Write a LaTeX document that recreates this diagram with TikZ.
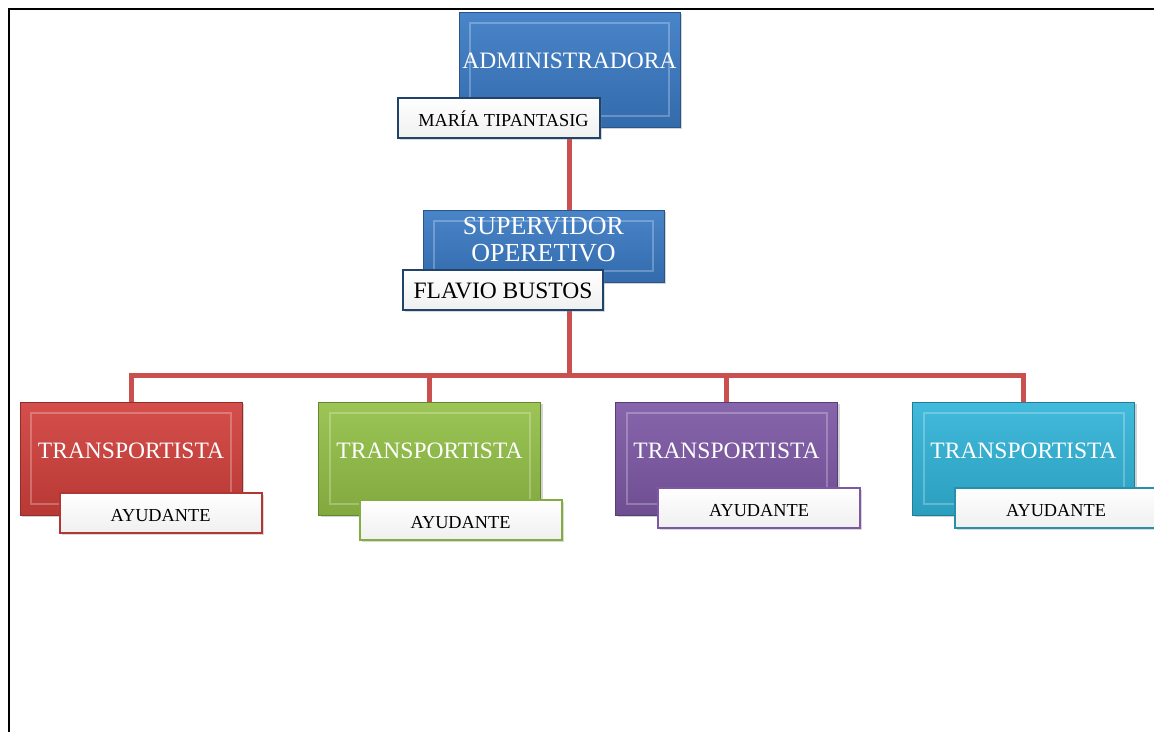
\documentclass[tikz,border=0pt]{standalone}
\usepackage{fontspec}
\setmainfont{Liberation Serif}
\usetikzlibrary{shadows,backgrounds}
\definecolor{azul}{HTML}{3A7AC4}
\definecolor{rojo}{HTML}{D1403C}
\definecolor{verde}{HTML}{93C047}
\definecolor{morado}{HTML}{7D58A5}
\definecolor{celeste}{HTML}{31B4D8}
\definecolor{enlacerojo}{HTML}{C9504E}
\tikzset{
  cargo/.style={rectangle, draw=#1!70!black, line width=1pt, inner sep=0pt,
    top color=#1!92!white, bottom color=#1!88!black,
    drop shadow={shadow xshift=2pt, shadow yshift=-2pt, opacity=.35},
    path picture={\draw[white, opacity=.25, line width=2pt]
      ([shift={(11pt,-11pt)}]path picture bounding box.north west) rectangle
      ([shift={(-11pt,11pt)}]path picture bounding box.south east);}},
  titulo/.style={text=white, inner sep=0pt, align=center, font=\fontsize{23.5}{27}\selectfont},
  nombre/.style={rectangle, draw=#1, line width=2pt, inner sep=0pt,
    top color=white, bottom color=gray!12, minimum width=202pt, minimum height=40pt,
    text height=16pt, text depth=0pt,
    drop shadow={shadow xshift=2pt, shadow yshift=-2pt, opacity=.3},
    font=\fontsize{18.3}{20}\selectfont},
  enlace/.style={draw=enlacerojo, line width=5pt}
}
\begin{document}
\begin{tikzpicture}[x=1pt,y=-1pt]
\useasboundingbox (0,0) rectangle (1154,732);
\draw[line width=2pt] (8.5,732) -- (8.5,9) -- (1154,9);
% cargos
\node [cargo=azul, minimum width=221pt, minimum height=115pt] (adm) at (569.5,69.5) {};
\node [titulo] (admt) at ([yshift=9pt]adm.center) {ADMINISTRADORA};
\node [nombre=azul!55!black] (maria) at (498.5,118) {\hspace{10pt}MARÍA TIPANTASIG};
\node [cargo=azul, minimum width=241pt, minimum height=72pt] (sup) at (543.5,246) {};
\node [titulo, font=\fontsize{26}{27}\selectfont] (supt) at ([yshift=6pt]sup.center) {SUPERVIDOR\\OPERETIVO};
\node [nombre=azul!55!black, minimum width=200pt, font=\fontsize{23.5}{26}\selectfont] (flavio) at (503,290) {FLAVIO BUSTOS};
\node [cargo=rojo, minimum width=222pt, minimum height=113pt] (tr1) at (131,458.5) {};
\node [titulo] (tr1t) at ([yshift=8pt]tr1.center) {TRANSPORTISTA};
\node [nombre=rojo!85!black] (ay1) at (160.5,513) {AYUDANTE};
\node [cargo=verde, minimum width=222pt, minimum height=113pt] (tr2) at (429.5,458.5) {};
\node [titulo] (tr2t) at ([yshift=8pt]tr2.center) {TRANSPORTISTA};
\node [nombre=verde!90!black] (ay2) at (460.5,520) {AYUDANTE};
\node [cargo=morado, minimum width=222pt, minimum height=113pt] (tr3) at (726.5,458.5) {};
\node [titulo] (tr3t) at ([yshift=8pt]tr3.center) {TRANSPORTISTA};
\node [nombre=morado] (ay3) at (759,508) {AYUDANTE};
\node [cargo=celeste, minimum width=222pt, minimum height=113pt] (tr4) at (1023.5,458.5) {};
\node [titulo] (tr4t) at ([yshift=8pt]tr4.center) {TRANSPORTISTA};
\node [nombre=celeste!80!black] (ay4) at (1056,508) {AYUDANTE};
% enlaces
\coordinate (bus) at (569.5,375);
\begin{scope}[on background layer]
\draw [enlace] (adm.south) -- (adm.south |- sup.north);
\draw [enlace] (adm.south |- sup.south) -- (bus);
\draw [enlace] (bus) -| (tr1.north);
\draw [enlace] (bus) -| (tr2.north);
\draw [enlace] (bus) -| (tr3.north);
\draw [enlace] (bus) -| (tr4.north);
\end{scope}
\end{tikzpicture}
\end{document}
